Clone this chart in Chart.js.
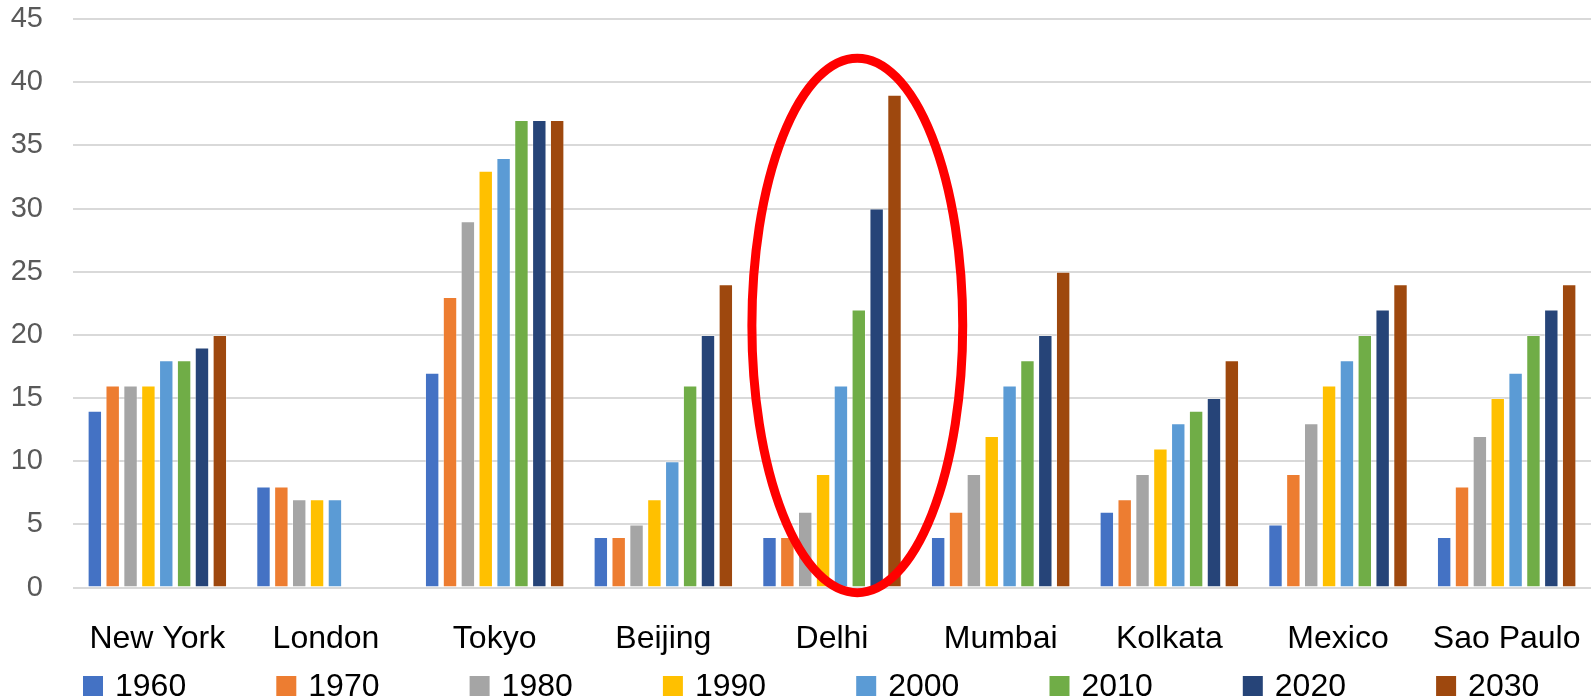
<!DOCTYPE html>
<html>
<head>
<meta charset="utf-8">
<title>Megacity population by decade</title>
<script src="https://cdn.jsdelivr.net/npm/chart.js@4/dist/chart.umd.min.js"></script>
<style>
  html, body { margin: 0; padding: 0; background: #ffffff; }
  #wrap { position: relative; width: 1591px; height: 700px; }
</style>
</head>
<body>
<div id="wrap"><canvas id="chart" width="1591" height="700"></canvas></div>
<script>
// Cities along the x axis
const cities = ['New York', 'London', 'Tokyo', 'Beijing', 'Delhi', 'Mumbai', 'Kolkata', 'Mexico', 'Sao Paulo'];

// Population (millions) per decade, one value per city
const pop1960 = [14, 8, 17, 4, 4, 4, 6, 5, 4];
const pop1970 = [16, 8, 23, 4, 4, 6, 7, 9, 8];
const pop1980 = [16, 7, 29, 5, 6, 9, 9, 13, 12];
const pop1990 = [16, 7, 33, 7, 9, 12, 11, 16, 15];
const pop2000 = [18, 7, 34, 10, 16, 16, 13, 18, 17];
const pop2010 = [18, null, 37, 16, 22, 18, 14, 20, 20];
const pop2020 = [19, null, 37, 20, 30, 20, 15, 22, 22];
const pop2030 = [20, null, 37, 24, 39, 25, 18, 24, 24];

const decades = ['1960', '1970', '1980', '1990', '2000', '2010', '2020', '2030'];
const yTicks = [0, 5, 10, 15, 20, 25, 30, 35, 40, 45];

const seriesValues = [pop1960, pop1970, pop1980, pop1990, pop2000, pop2010, pop2020, pop2030];
const seriesColors = ['#4472C4', '#ED7D31', '#A5A5A5', '#FFC000', '#5B9BD5', '#70AD47', '#264478', '#9E480E'];

// Highlight ring around one city (category index, value range it spans)
const highlightCity = 4;
const highlightTop = 41.9;
const highlightBottom = -0.4;

const FONT = '"Liberation Sans", Arial, sans-serif';

// Red ellipse drawn over the highlighted city's bars
const highlightRing = {
  id: 'highlightRing',
  afterDraw(chart) {
    const x = chart.scales.x, y = chart.scales.y;
    const catW = (x.right - x.left) / cities.length;
    const cx = x.getPixelForValue(highlightCity) + 0.15 * catW;
    const rx = 0.625 * catW;
    const top = y.getPixelForValue(highlightTop);
    const bottom = y.getPixelForValue(highlightBottom);
    const ctx = chart.ctx;
    ctx.save();
    ctx.beginPath();
    ctx.ellipse(cx, (top + bottom) / 2, rx, (bottom - top) / 2, 0, 0, Math.PI * 2);
    ctx.lineWidth = 9;
    ctx.strokeStyle = '#FF0000';
    ctx.stroke();
    ctx.restore();
  }
};

// Single-row legend under the category labels
const bottomLegend = {
  id: 'bottomLegend',
  afterDraw(chart) {
    const ctx = chart.ctx;
    const startX = 83, pitch = 193.3, boxTop = 676, box = 20, baseline = 696;
    ctx.save();
    ctx.font = '32px ' + FONT;
    ctx.textBaseline = 'alphabetic';
    ctx.textAlign = 'left';
    chart.data.datasets.forEach((ds, i) => {
      const bx = startX + i * pitch;
      ctx.fillStyle = ds.backgroundColor;
      ctx.fillRect(bx, boxTop, box, box);
      ctx.fillStyle = '#000000';
      ctx.fillText(ds.label, bx + box + 12, baseline);
    });
    ctx.restore();
  }
};

new Chart(document.getElementById('chart'), {
  type: 'bar',
  data: {
    labels: cities,
    datasets: decades.map((d, i) => ({
      label: d,
      data: seriesValues[i],
      backgroundColor: seriesColors[i],
      borderColor: 'rgba(255,255,255,0.35)',
      borderWidth: 1,
      categoryPercentage: 0.847,
      barPercentage: 0.807
    }))
  },
  options: {
    responsive: false,
    animation: false,
    devicePixelRatio: 1,
    layout: { padding: { left: 0, right: 0, top: 19, bottom: 10 } },
    plugins: {
      legend: { display: false },
      tooltip: { enabled: false }
    },
    scales: {
      x: {
        grid: { display: false, drawTicks: false },
        border: { display: false },
        ticks: { color: '#000000', font: { family: FONT, size: 32 }, padding: 32, maxRotation: 0, autoSkip: false },
        // labels sit inside their categories, so no edge padding is needed
        afterFit(scale) { scale.paddingLeft = 0; scale.paddingRight = 0; }
      },
      y: {
        min: 0,
        max: 45,
        afterBuildTicks(scale) { scale.ticks = yTicks.map(v => ({ value: v })); },
        afterFit(scale) { scale.width = 73; scale.paddingTop = 0; scale.paddingBottom = 0; },
        grid: { color: '#D9D9D9', lineWidth: 2, drawTicks: false },
        border: { display: false },
        ticks: { color: '#595959', font: { family: FONT, size: 29 }, padding: 30 }
      }
    }
  },
  plugins: [highlightRing, bottomLegend]
});
</script>
</body>
</html>
